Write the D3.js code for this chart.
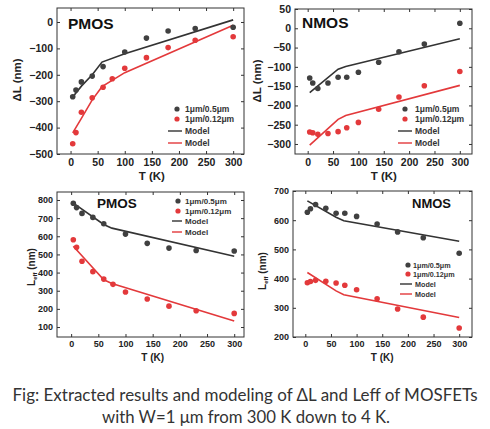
<!DOCTYPE html>
<html>
<head>
<meta charset="utf-8">
<script src="https://cdn.jsdelivr.net/npm/d3@7"></script>
<style>
  body { margin: 0; background: #fff; }
  text { font-family: "Liberation Sans", Arial, sans-serif; }
</style>
</head>
<body>
<div id="chart-area"></div>
<script>
/*
*    mosfet dL / Leff vs temperature
*/

// measured temperatures (K)
var tempsA = [4, 10, 20, 40, 60, 100, 140, 180, 230, 300];
var tempsB = [4, 10, 20, 40, 60, 77, 100, 140, 180, 230, 300];

// delta L (nm)
var pmosDL05 = [-283, -258, -227, -205, -169, -114, -61, -34, -25, -20];
var pmosDL012 = [-461, -419, -342, -287, -247, -215, -175, -135, -97, -69, -56];
var nmosDL05 = [-129, -142, -156, -142, -127, -127, -114, -88, -61, -41, 13];
var nmosDL012 = [-269, -271, -275, -273, -268, -258, -244, -210, -178, -149, -112];

// Leff (nm)
var pmosLeff05 = [782, 758, 726, 704, 669, 612, 561, 535, 522, 519];
var pmosLeff012 = [581, 539, 462, 405, 364, 335, 293, 254, 215, 190, 175];
var nmosLeff05 = [627, 639, 654, 641, 624, 624, 613, 587, 560, 540, 487];
var nmosLeff012 = [386, 390, 394, 391, 385, 377, 362, 331, 296, 268, 231];

// model curves
var modelTemps = [4, 20, 40, 58, 100, 300];
var pmosDLModel05 = [-284, -243, -200, -152, -120, 8];
var pmosDLModel012 = [-420, -365, -295, -245, -192, -12];
var kneeTemps = [4, 60, 75, 300];
var nmosDLModel05 = [-167, -106, -99, -27];
var nmosDLModel012 = [-303, -236, -226, -148];
var pmosLeffModel05 = [783, 665, 645, 490];
var pmosLeffModel012 = [545, 360, 340, 133];
var nmosLeffModel05 = [666, 610, 598, 528];
var nmosLeffModel012 = [421, 358, 345, 267];

var xTicks = [0, 50, 100, 150, 200, 250, 300];
var legendLabels = ["1\u03bcm/0.5\u03bcm", "1\u03bcm/0.12\u03bcm", "Model", "Model"];
var caption = ["Fig: Extracted results and modeling of \u0394L and Leff of MOSFETs",
               "with W=1 \u03bcm from 300 K down to 4 K."];

var grey = "#404040";
var red = "#e3393b";

var svg = d3.select("#chart-area").append("svg")
    .attr("width", 490)
    .attr("height", 429);

function zip(xs, ys) {
    return xs.map(function(x, i) { return [x, ys[i]]; });
}

function panel(p) {
    var x = d3.scaleLinear().domain(p.xDomain).range([p.left, p.right]);
    var y = d3.scaleLinear().domain(p.yDomain).range([p.bottom, p.top]);
    var g = svg.append("g");

    // frame
    g.append("rect")
        .attr("x", p.left).attr("y", p.top)
        .attr("width", p.right - p.left).attr("height", p.bottom - p.top)
        .attr("fill", "none").attr("stroke", "#333").attr("stroke-width", 1);

    g.append("g").attr("transform", "translate(0," + p.bottom + ")")
        .call(d3.axisBottom(x).tickValues(xTicks).tickSize(-3).tickPadding(p.xPad));
    g.append("g").attr("transform", "translate(" + p.left + ",0)")
        .call(d3.axisLeft(y).tickValues(p.yTicks).tickSize(-3).tickPadding(4));
    g.append("g").attr("transform", "translate(0," + p.top + ")")
        .call(d3.axisTop(x).tickValues(xTicks).tickSize(-3).tickFormat(""));
    g.append("g").attr("transform", "translate(" + p.right + ",0)")
        .call(d3.axisRight(y).tickValues(p.yTicks).tickSize(-3).tickFormat(""));
    g.selectAll(".domain").remove();
    g.selectAll(".tick line").attr("stroke", "#333");
    g.selectAll(".tick text")
        .attr("font-size", p.tickFont).attr("font-weight", "bold").attr("fill", "#222");

    var line = d3.line().x(function(d) { return x(d[0]); }).y(function(d) { return y(d[1]); });

    g.append("path").datum(zip(p.modelT, p.model05))
        .attr("d", line).attr("fill", "none").attr("stroke", "#333").attr("stroke-width", 1.6);
    g.append("path").datum(zip(p.modelT, p.model012))
        .attr("d", line).attr("fill", "none").attr("stroke", red).attr("stroke-width", 1.6);

    g.selectAll(".dotA").data(zip(p.t05, p.data05)).enter().append("circle")
        .attr("cx", function(d) { return x(d[0]); })
        .attr("cy", function(d) { return y(d[1]); })
        .attr("r", 2.8).attr("fill", grey);
    g.selectAll(".dotB").data(zip(p.t012, p.data012)).enter().append("circle")
        .attr("cx", function(d) { return x(d[0]); })
        .attr("cy", function(d) { return y(d[1]); })
        .attr("r", 2.8).attr("fill", red);

    // name
    g.append("text").attr("x", p.name[1]).attr("y", p.name[2])
        .attr("font-size", p.name[3]).attr("font-weight", "bold").attr("fill", "#111")
        .text(p.name[0]);

    // legend
    var lg = p.legend;
    var colors = [grey, red, "#333", red];
    legendLabels.forEach(function(lab, i) {
        var ly = lg.ys[i];
        if (i < 2) {
            g.append("circle").attr("cx", lg.dotX).attr("cy", ly).attr("r", 2.6).attr("fill", colors[i]);
        } else {
            g.append("line").attr("x1", lg.lineX[0]).attr("x2", lg.lineX[1])
                .attr("y1", ly).attr("y2", ly).attr("stroke", colors[i]).attr("stroke-width", 1.4);
        }
        g.append("text").attr("x", i < 2 ? lg.textX : lg.textX2).attr("y", ly).attr("dy", "0.35em")
            .attr("font-size", lg.font).attr("font-weight", "bold").attr("fill", "#333")
            .text(lab);
    });

    // axis titles
    g.append("text").attr("x", (x(0) + x(300)) / 2).attr("y", p.xTitleY)
        .attr("text-anchor", "middle").attr("font-size", p.titleFont).attr("font-weight", "bold")
        .attr("fill", "#222").text("T (K)");

    var yt = g.append("text")
        .attr("transform", "translate(" + p.yTitleX + "," + p.yTitleY + ") rotate(-90)")
        .attr("text-anchor", "middle").attr("font-size", p.titleFont).attr("font-weight", "bold")
        .attr("fill", "#222");
    if (p.leff) {
        yt.append("tspan").text("L");
        yt.append("tspan").attr("font-size", p.titleFont * 0.6).attr("dy", 2).text("eff");
        yt.append("tspan").attr("dy", -2).text(" (nm)");
    } else {
        yt.text("\u0394L (nm)");
    }
}

panel({
    left: 57, right: 244, top: 8, bottom: 154,
    xDomain: [-25, 320], yDomain: [-500, 53], yTicks: [-500, -400, -300, -200, -100, 0],
    tickFont: 10.5, xPad: 5, titleFont: 11.5,
    t05: tempsA, data05: pmosDL05, t012: tempsB, data012: pmosDL012,
    modelT: modelTemps, model05: pmosDLModel05, model012: pmosDLModel012,
    name: ["PMOS", 68, 29, 15.5],
    legend: { dotX: 177, textX: 185, textX2: 185, lineX: [168, 182], ys: [109, 119, 131, 143], font: 8.5 },
    xTitleY: 180, yTitleX: 21, yTitleY: 80
});

panel({
    left: 295, right: 472, top: 9, bottom: 154,
    xDomain: [-25, 324], yDomain: [-326, 50], yTicks: [-300, -250, -200, -150, -100, -50, 0, 50],
    tickFont: 10.5, xPad: 5, titleFont: 11.5,
    t05: tempsB, data05: nmosDL05, t012: tempsB, data012: nmosDL012,
    modelT: kneeTemps, model05: nmosDLModel05, model012: nmosDLModel012,
    name: ["NMOS", 302, 28, 15.5],
    legend: { dotX: 405, textX: 415, textX2: 415, lineX: [398, 412], ys: [109, 119, 131, 143], font: 8.5 },
    xTitleY: 180, yTitleX: 261, yTitleY: 81
});

panel({
    left: 57, right: 244, top: 192, bottom: 337,
    xDomain: [-26, 318], yDomain: [45, 844], yTicks: [100, 200, 300, 400, 500, 600, 700, 800],
    tickFont: 9, xPad: 4, titleFont: 10,
    t05: tempsA, data05: pmosLeff05, t012: tempsB, data012: pmosLeff012,
    modelT: kneeTemps, model05: pmosLeffModel05, model012: pmosLeffModel012,
    name: ["PMOS", 97, 208, 13.5],
    legend: { dotX: 178, textX: 185, textX2: 185, lineX: [172, 182], ys: [201, 211, 221, 232], font: 8 },
    xTitleY: 361, yTitleX: 35, yTitleY: 267, leff: true
});

panel({
    left: 293, right: 472, top: 191, bottom: 337,
    xDomain: [-24, 325], yDomain: [200, 700], yTicks: [200, 300, 400, 500, 600, 700],
    tickFont: 9, xPad: 4, titleFont: 10,
    t05: tempsB, data05: nmosLeff05, t012: tempsB, data012: nmosLeff012,
    modelT: kneeTemps, model05: nmosLeffModel05, model012: nmosLeffModel012,
    name: ["NMOS", 412, 208, 13],
    legend: { dotX: 408, textX: 413, textX2: 415, lineX: [400, 412], ys: [265, 274, 284, 294], font: 7.2 },
    xTitleY: 361, yTitleX: 266, yTitleY: 271, leff: true
});

// caption
svg.append("text").attr("x", 245).attr("y", 401).attr("text-anchor", "middle")
    .style("font-family", "Lato, 'Open Sans', sans-serif").attr("font-size", 17).attr("fill", "#333")
    .attr("textLength", 465).attr("lengthAdjust", "spacingAndGlyphs")
    .text(caption[0]);
svg.append("text").attr("x", 246).attr("y", 423).attr("text-anchor", "middle")
    .style("font-family", "Lato, 'Open Sans', sans-serif").attr("font-size", 17).attr("fill", "#333")
    .attr("textLength", 288).attr("lengthAdjust", "spacingAndGlyphs")
    .text(caption[1]);
</script>
</body>
</html>
